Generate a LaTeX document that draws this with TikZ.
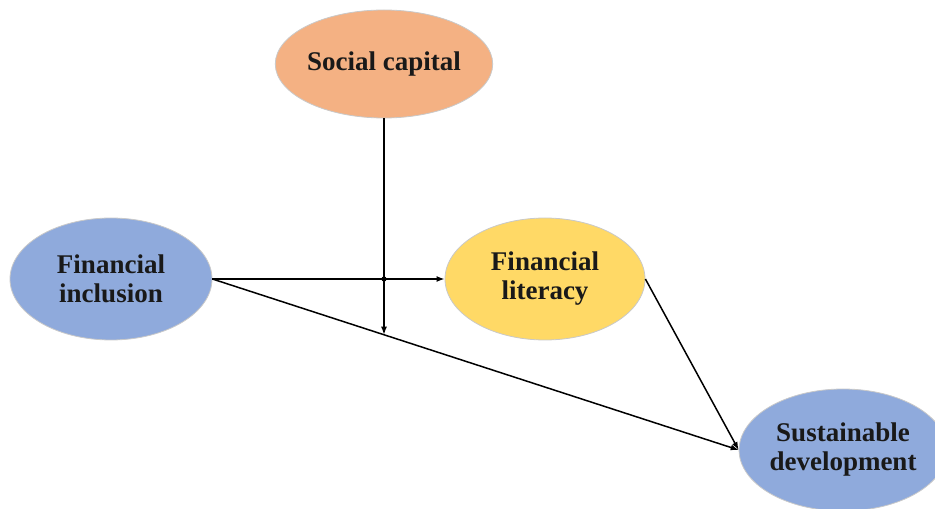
\documentclass[tikz,border=0pt]{standalone}
\usepackage{fontspec}
\setmainfont{Liberation Serif}
\usetikzlibrary{shapes.geometric,arrows.meta,calc}

\definecolor{capital}{HTML}{F4B183}
\definecolor{inclusion}{HTML}{8FAADC}
\definecolor{literacy}{HTML}{FFD966}
\definecolor{rim}{HTML}{C9C9C9}

\tikzset{
  var/.style={ellipse,draw=rim,line width=0.8pt,inner sep=0pt,
    minimum width=202pt,minimum height=122pt,align=center,
    font=\fontsize{27}{29}\selectfont\bfseries,text=black!90},
  link/.style={line width=1.5pt,-{Latex[length=8pt,width=6pt]}}
}

\begin{document}
\begin{tikzpicture}[x=1pt,y=1pt]
                \useasboundingbox(0,0)rectangle(935,509);
                \node[var,fill=capital,minimum width=208pt,minimum height=108pt](sc)at(384,445){Social capital};
                \node[var,fill=inclusion](fi)at(111,230){Financial\\inclusion};
                \node[var,fill=literacy,minimum width=200pt](fl)at(545,230){Financial\\literacy};
                \node[var,fill=inclusion,minimum width=200pt](sd)at(843,59){Sustainable\\development};
                \coordinate(j)at(sc.south|-fi.east);
                \coordinate(m)at($(fi.east)!0.326!(sd.west)$);
                \draw[link](fi.east)--(fl.west);
                \draw[link](fi.east)--(sd.west);
                \draw[link](fl.east)--(sd.west);
                \draw[link](sc.south)--(sc.south|-m);
                \fill(j)circle(2.6pt);
            \end{tikzpicture}
\end{document}
